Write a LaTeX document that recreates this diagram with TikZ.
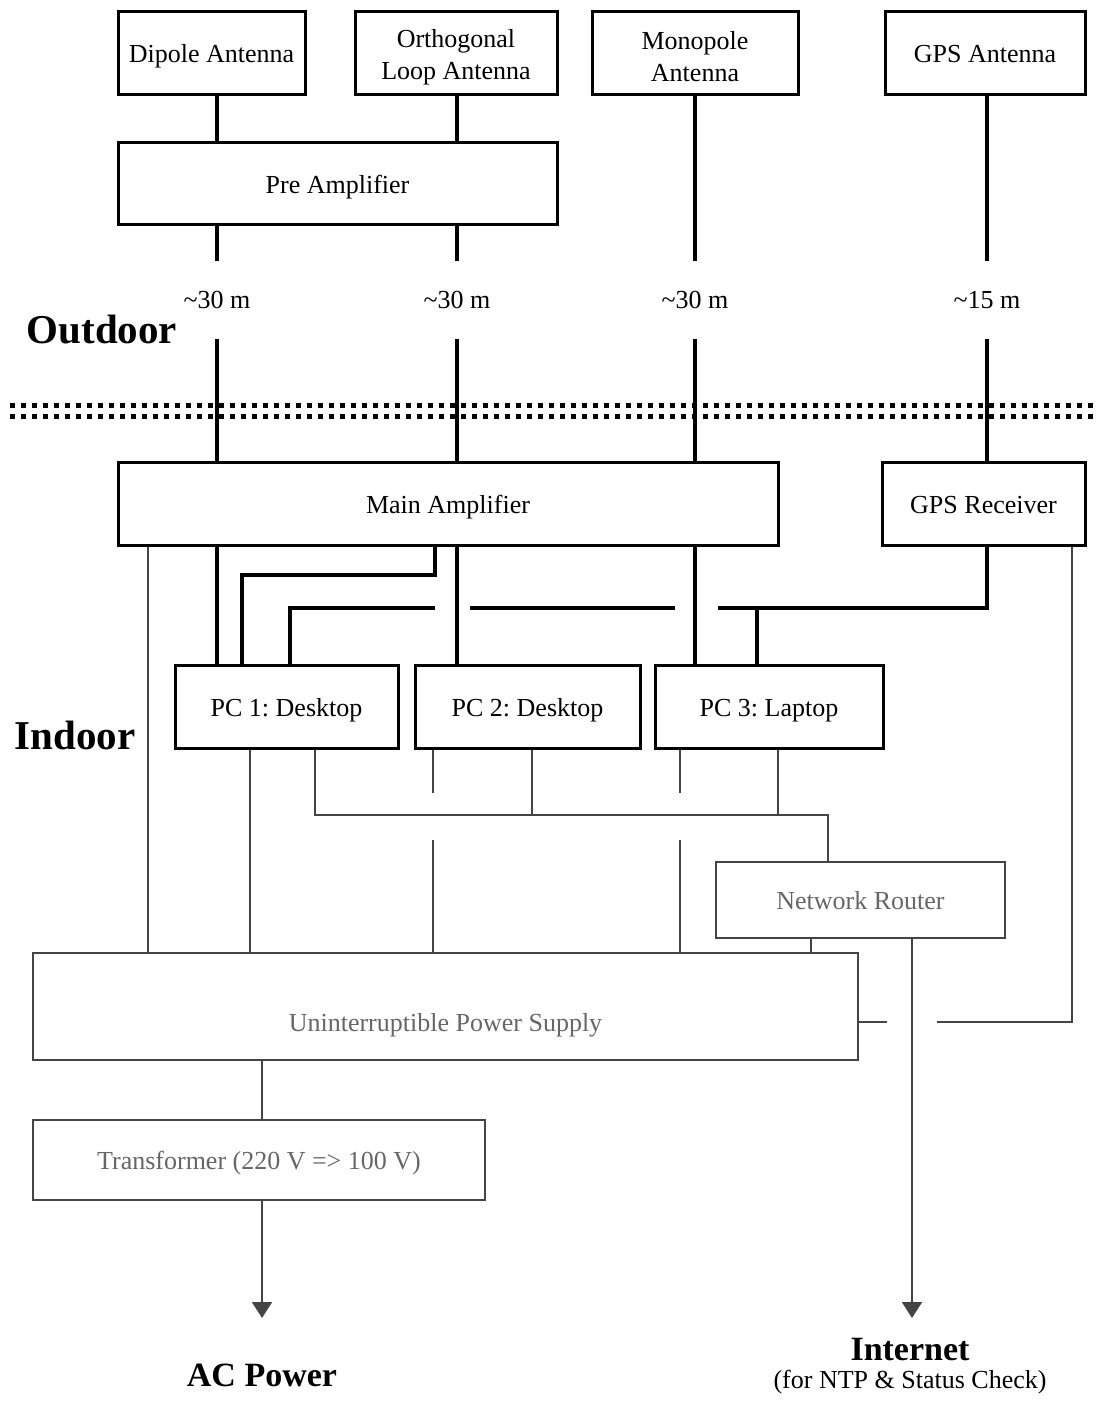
\documentclass[tikz,border=0pt]{standalone}
\usepackage{fontspec}
\setmainfont{Liberation Serif}
\usetikzlibrary{arrows.meta}
\definecolor{gline}{HTML}{444444}
\definecolor{gtext}{HTML}{666666}
\frenchspacing
\newcommand{\topstrut}{\rule{0pt}{12.5pt}}
\begin{document}
\begin{tikzpicture}[x=0.5pt,y=-0.5pt,
  txt/.style={font=\fontsize{13}{16}\selectfont\frenchspacing},
  bbox/.style={draw,line width=1.5pt,inner sep=0pt,align=center,txt,text height=12.5pt,text depth=3pt},
  bbox2/.style={draw,line width=1.5pt,inner sep=0pt,align=center,txt},
  gbox/.style={draw=gline,line width=1pt,inner sep=0pt,align=center,txt,text=gtext,text height=12.5pt,text depth=3pt},
  bline/.style={line width=2pt,line cap=butt},
  gwire/.style={draw=gline,line width=1pt},
  garrow/.style={gwire,-{Triangle[width=10pt,length=8pt]},fill=gline},
  dist/.style={txt,inner sep=0pt,minimum height=39pt},
  big/.style={font=\fontsize{20.5}{24}\selectfont\bfseries},
  mid/.style={font=\fontsize{17}{20}\selectfont\bfseries}]
\useasboundingbox (0,0) rectangle (1097,1407);
% boxes
\node[bbox,minimum width=93.5pt,minimum height=41.5pt] (dip) at (211.5,53.5) {Dipole Antenna};
\node[bbox2,minimum width=101pt,minimum height=41.5pt] (loop) at (456,53.5) {\topstrut Orthogonal\\Loop Antenna};
\node[bbox2,minimum width=103pt,minimum height=41.5pt] (mono) at (695,53.5) {\topstrut Monopole\\Antenna};
\node[bbox,minimum width=100pt,minimum height=41.5pt] (gpsa) at (985,53.5) {GPS Antenna};
\node[bbox,minimum width=219.5pt,minimum height=41pt] (pre) at (337.5,184) {Pre Amplifier};
\node[bbox,minimum width=330pt,minimum height=41.5pt] (main) at (448,503.5) {Main Amplifier};
\node[bbox,minimum width=101.5pt,minimum height=41.5pt] (gpsr) at (983.5,503.5) {GPS Receiver};
\node[bbox,minimum width=111.5pt,minimum height=41.5pt] (pc1) at (286.5,706.5) {PC 1: Desktop};
\node[bbox,minimum width=112.5pt,minimum height=41.5pt] (pc2) at (527.5,706.5) {PC 2: Desktop};
\node[bbox,minimum width=114pt,minimum height=41.5pt] (pc3) at (769,706.5) {PC 3: Laptop};
\node[gbox,minimum width=144.5pt,minimum height=38pt] (router) at (860.5,900) {Network Router};
\node[gbox,minimum width=412.5pt,minimum height=53.5pt,text height=28pt] (ups) at (445.5,1006.5) {Uninterruptible Power Supply};
\node[gbox,minimum width=226pt,minimum height=40pt] (trans) at (259,1160) {Transformer (220 V => 100 V)};
% distance labels
\node[dist] (l1) at (217,300) {\textasciitilde 30 m};
\node[dist] (l2) at (457,300) {\textasciitilde 30 m};
\node[dist] (l3) at (695,300) {\textasciitilde 30 m};
\node[dist] (l4) at (987,300) {\textasciitilde 15 m};
% region labels
\node[big] (outdoor) at (102,330) {Outdoor};
\node[big] (indoor) at (75,735) {Indoor};
\node[mid] (ac) at (262,1375) {AC Power};
\node[mid] (inet) at (910,1350) {Internet};
\node[txt,inner sep=0pt] (inetsub) at (910,1382) {(for NTP \& Status Check)};
\coordinate (acarrow) at (262,1318);
\coordinate (inetarrow) at (912,1318);
% dotted boundary
\draw[line width=2.5pt,dash pattern=on 2.5pt off 3pt] (10,405) -- (1097,405);
\draw[line width=2.5pt,dash pattern=on 2.5pt off 3pt] (10,416) -- (1097,416);
% black wires
\draw[bline] (217,0 |- dip.south) -- (217,0 |- pre.north);
\draw[bline] (457,0 |- loop.south) -- (457,0 |- pre.north);
\draw[bline] (217,0 |- pre.south) -- (217,0 |- l1.north);
\draw[bline] (457,0 |- pre.south) -- (457,0 |- l2.north);
\draw[bline] (695,0 |- mono.south) -- (695,0 |- l3.north);
\draw[bline] (987,0 |- gpsa.south) -- (987,0 |- l4.north);
\draw[bline] (217,0 |- l1.south) -- (217,0 |- main.north);
\draw[bline] (457,0 |- l2.south) -- (457,0 |- main.north);
\draw[bline] (695,0 |- l3.south) -- (695,0 |- main.north);
\draw[bline] (987,0 |- l4.south) -- (987,0 |- gpsr.north);
\draw[bline] (217,0 |- main.south) -- (217,0 |- pc1.north);
\draw[bline] (435,0 |- main.south) |- (242,575) -- (242,0 |- pc1.north);
\draw[bline] (457,0 |- main.south) -- (457,0 |- pc2.north);
\draw[bline] (695,0 |- main.south) -- (695,0 |- pc3.north);
\draw[bline] (987,0 |- gpsr.south) |- (718,608);
\draw[bline] (757,608) -- (757,0 |- pc3.north);
\draw[bline] (675,608) -- (470,608);
\draw[bline] (435,608) -| (290,0 |- pc1.north);
% grey wires
\draw[gwire] (148,0 |- main.south) -- (148,0 |- ups.north);
\draw[gwire] (250,0 |- pc1.south) -- (250,0 |- ups.north);
\draw[gwire] (315,0 |- pc1.south) |- (828,815) -- (828,0 |- router.north);
\draw[gwire] (532,0 |- pc2.south) -- (532,815);
\draw[gwire] (778,0 |- pc3.south) -- (778,815);
\draw[gwire] (433,0 |- pc2.south) -- (433,793);
\draw[gwire] (433,840) -- (433,0 |- ups.north);
\draw[gwire] (680,0 |- pc3.south) -- (680,793);
\draw[gwire] (680,840) -- (680,0 |- ups.north);
\draw[gwire] (811,0 |- router.south) -- (811,0 |- ups.north);
\draw[gwire] (1072,0 |- gpsr.south) |- (937,1022);
\draw[gwire] (887,1022) -- (ups.east |- 0,1022);
\draw[gwire] (262,0 |- ups.south) -- (262,0 |- trans.north);
\draw[garrow] (262,0 |- trans.south) -- (acarrow);
\draw[garrow] (912,0 |- router.south) -- (inetarrow);
\end{tikzpicture}
\end{document}
